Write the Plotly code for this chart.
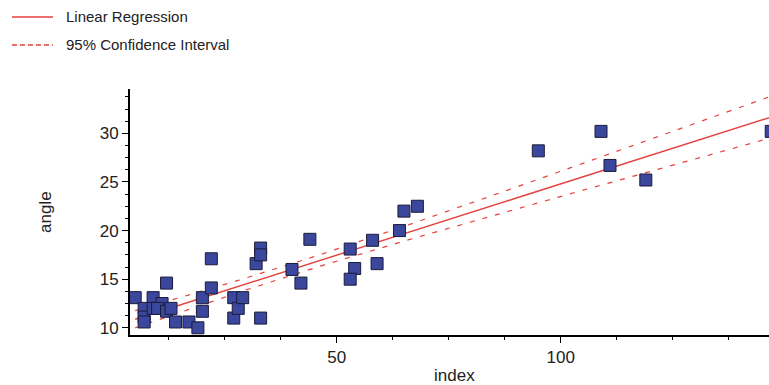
import numpy as np
import plotly.graph_objects as go

# ---- data ----
index_vals = [5, 7, 7, 7, 9, 9, 11, 10, 12, 12, 13, 14, 17, 19, 20, 20, 22, 22,
              27, 27, 28, 29, 32, 33, 33, 33, 40, 42, 44, 53, 54, 53, 59, 58,
              64, 65, 68, 95, 109, 111, 119, 147]
angle_vals = [13.1, 12.0, 11.1, 10.6, 13.1, 12.0, 12.5, 12.0, 14.6, 11.7, 12.0, 10.6,
              10.6, 10.0, 11.7, 13.1, 14.1, 17.1, 13.1, 11.0, 12.0, 13.1, 16.6, 18.2,
              17.5, 11.0, 16.0, 14.6, 19.1, 18.1, 16.1, 15.0, 16.6, 19.0, 20.0, 22.0,
              22.5, 28.2, 30.2, 26.7, 25.2, 30.2]
y_ticks = [10, 15, 20, 25, 30]
x_ticks = [50, 100]
legend_labels = ["Linear Regression", "95% Confidence Interval"]

# regression model
fit_intercept = 10.15
fit_slope = 0.1465
fit_x_span = [5, 150]
ci_min_halfwidth = 0.58     # narrowest half-width of the band
ci_center_x = 40            # where the band is narrowest
ci_spread = 0.0011          # growth of the band away from the centre

xf = np.linspace(fit_x_span[0], fit_x_span[1], 200)
yf = fit_intercept + fit_slope * xf
half = ci_min_halfwidth * np.sqrt(1 + ci_spread * (xf - ci_center_x) ** 2)

RED = "#e5413d"
W, H = 769, 385
L, R, T, B = 130, 0, 89, 50
PW, PH = W - L - R, H - T - B


def px(xp):
    return (xp - L) / PW


def py(yp):
    return (H - B - yp) / PH


FONT = "Liberation Sans, Arial, sans-serif"

fig = go.Figure()
fig.add_trace(go.Scatter(x=xf, y=yf + half, mode="lines",
                         line=dict(color=RED, width=1.2, dash="5px,8px"),
                         showlegend=False, hoverinfo="skip"))
fig.add_trace(go.Scatter(x=xf, y=yf - half, mode="lines",
                         line=dict(color=RED, width=1.2, dash="5px,8px"),
                         showlegend=False, hoverinfo="skip"))
fig.add_trace(go.Scatter(x=xf, y=yf, mode="lines",
                         line=dict(color=RED, width=1.4),
                         showlegend=False))
fig.add_trace(go.Scatter(x=index_vals, y=angle_vals, mode="markers",
                         marker=dict(symbol="square", size=12, color="#3a479c",
                                     line=dict(color="#1b1b3a", width=1)),
                         showlegend=False))

# manual legend (top-left)
shapes = [
    dict(type="line", xref="paper", yref="paper", x0=px(12), x1=px(53),
         y0=py(17), y1=py(17), line=dict(color=RED, width=1.3)),
    dict(type="line", xref="paper", yref="paper", x0=px(12), x1=px(53),
         y0=py(45), y1=py(45), line=dict(color=RED, width=1.3, dash="5px,3px")),
]
annotations = [
    dict(text=legend_labels[0], xref="paper", yref="paper", x=px(64), y=py(17),
         xanchor="left", yanchor="middle", showarrow=False,
         font=dict(size=15, color="#222", family=FONT)),
    dict(text=legend_labels[1], xref="paper", yref="paper", x=px(64), y=py(45),
         xanchor="left", yanchor="middle", showarrow=False,
         font=dict(size=15, color="#222", family=FONT)),
    dict(text="angle", xref="paper", yref="paper", x=px(45), y=py(212),
         xanchor="center", yanchor="middle", showarrow=False, textangle=-90,
         font=dict(size=17, color="#222", family=FONT)),
    dict(text="index", xref="paper", yref="paper", x=px(454), y=py(364),
         xanchor="center", yanchor="top", showarrow=False,
         font=dict(size=17, color="#222", family=FONT)),
]

axis_common = dict(showline=True, linecolor="black", linewidth=2, mirror=False,
                   ticks="outside", ticklen=6, tickwidth=1, tickcolor="black",
                   showgrid=False, zeroline=False,
                   tickfont=dict(size=17, color="#222", family=FONT))

fig.update_layout(
    width=W, height=H, autosize=False,
    margin=dict(l=L, r=R, t=T, b=B),
    paper_bgcolor="white", plot_bgcolor="white",
    xaxis=dict(range=[3.84, 146.5], tickvals=x_ticks,
               minor=dict(dtick=12.5, tick0=0, ticks="outside", ticklen=3,
                          tickcolor="black", showgrid=False),
               **axis_common),
    yaxis=dict(range=[9.26, 34.56], tickvals=y_ticks,
               minor=dict(dtick=1.25, tick0=0, ticks="outside", ticklen=3,
                          tickcolor="black", showgrid=False),
               **axis_common),
    shapes=shapes, annotations=annotations,
)

fig.write_html(
    "out.html",
    config={"displayModeBar": False},
    post_script="document.body.style.margin='0';document.body.style.overflow='hidden';",
)
